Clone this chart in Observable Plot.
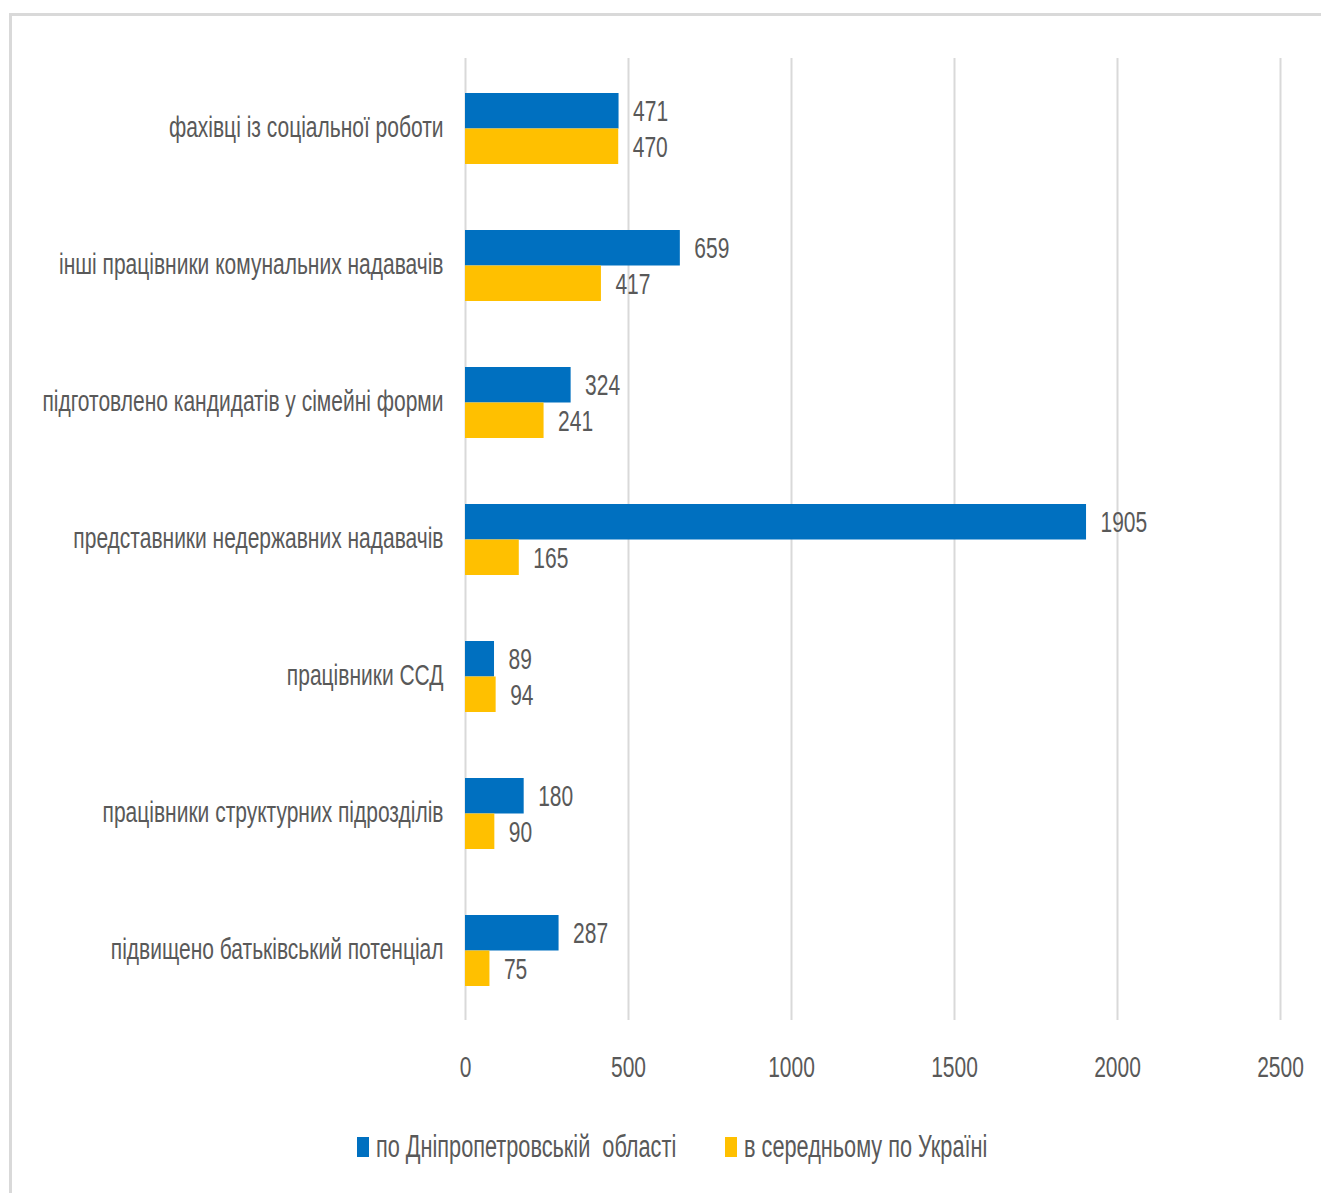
<!DOCTYPE html>
<html>
<head>
<meta charset="utf-8">
<script src="https://cdn.jsdelivr.net/npm/d3@7"></script>
<script src="https://cdn.jsdelivr.net/npm/@observablehq/plot@0.6"></script>
<style>
  html, body { margin: 0; padding: 0; background: #fff; }
  #wrap { position: relative; width: 1321px; height: 1193px; overflow: hidden; font-family: "Liberation Sans", Arial, sans-serif; }
  #frame { position: absolute; left: 9px; top: 13px; width: 1330px; height: 1200px; border-top: 3px solid #d9d9d9; border-left: 3px solid #d9d9d9; }
  #chart { position: absolute; left: 0; top: 0; }
  #legend { position: absolute; left: 0; top: 1128px; width: 1321px; display: flex; justify-content: center; padding-left: 24px; box-sizing: border-box; gap: 49px; color: #595959; font-size: 31px; line-height: 38px; }
  #legend .item { display: flex; align-items: center; gap: 7px; }
  #legend .sw { display: inline-block; width: 12px; height: 20px; flex: none; }
  #legend .lblwrap { display: inline-block; overflow: visible; }
  #legend .lbl { display: inline-block; white-space: pre; transform-origin: 0 50%; }
</style>
</head>
<body>
<div id="wrap">
  <div id="frame"></div>
  <div id="chart"></div>
  <div id="legend"></div>
</div>
<script>
const categories = [
  "фахівці із соціальної роботи",
  "інші працівники комунальних надавачів",
  "підготовлено кандидатів у сімейні форми",
  "представники недержавних надавачів",
  "працівники ССД",
  "працівники структурних підрозділів",
  "підвищено батьківський потенціал"
];
const seriesNames = ["по Дніпропетровській  області", "в середньому по Україні"];
const dnipro = [471, 659, 324, 1905, 89, 180, 287];
const ukraine = [470, 417, 241, 165, 94, 90, 75];
const xTicks = [0, 500, 1000, 1500, 2000, 2500];
const colors = ["#0070C0", "#FFC000"];

const dataD = categories.map((c, i) => ({category: c, value: dnipro[i]}));
const dataU = categories.map((c, i) => ({category: c, value: ukraine[i]}));

const textColor = "#595959";
const squeeze = 0.70; // horizontal condensation of the text glyphs

const chart = Plot.plot({
  width: 1321,
  height: 1100,
  marginLeft: 465,
  marginRight: 41,
  marginTop: 58,
  marginBottom: 80,
  style: {fontFamily: "'Liberation Sans', Arial, sans-serif", fontSize: "30px", color: textColor, background: "transparent"},
  x: {domain: [0, 2500], ticks: xTicks, tickFormat: d => String(d), tickSize: 0, tickPadding: 35, label: null},
  y: {domain: categories, paddingInner: 0.483, paddingOuter: 0.24, tickSize: 0, tickPadding: 22, label: null},
  marks: [
    Plot.ruleX(xTicks, {stroke: "#d9d9d9", strokeWidth: 2}),
    Plot.barX(dataD, {x: "value", y: "category", fill: colors[0], insetBottom: 35.5}),
    Plot.barX(dataU, {x: "value", y: "category", fill: colors[1], insetTop: 35.5}),
    Plot.axisY({tickSize: 0, tickPadding: 22, dy: -2, fontSize: 30}),
    Plot.text(dataD, {x: "value", y: "category", text: d => String(d.value), dx: 14, dy: -18, textAnchor: "start", fill: textColor, fontSize: 30}),
    Plot.text(dataU, {x: "value", y: "category", text: d => String(d.value), dx: 14, dy: 18, textAnchor: "start", fill: textColor, fontSize: 30})
  ]
});
document.getElementById("chart").appendChild(chart);

// condense the glyphs horizontally about each text's own anchor point
chart.querySelectorAll("text").forEach(t => {
  const b = t.getBBox();
  if (!b.width) return;
  const anchor = getComputedStyle(t).textAnchor;
  const ax = anchor === "end" ? b.x + b.width : anchor === "middle" ? b.x + b.width / 2 : b.x;
  const tr = t.getAttribute("transform") || "";
  t.setAttribute("transform", `${tr} translate(${ax},0) scale(${squeeze},1) translate(${-ax},0)`.trim());
});

const legend = document.getElementById("legend");
seriesNames.forEach((name, i) => {
  const item = document.createElement("div");
  item.className = "item";
  const sw = document.createElement("span");
  sw.className = "sw";
  sw.style.background = colors[i];
  const wrap = document.createElement("span");
  wrap.className = "lblwrap";
  const label = document.createElement("span");
  label.className = "lbl";
  label.textContent = name;
  wrap.appendChild(label);
  item.appendChild(sw);
  item.appendChild(wrap);
  legend.appendChild(item);
  const w = label.getBoundingClientRect().width;
  label.style.transform = `scaleX(${squeeze})`;
  wrap.style.width = (w * squeeze) + "px";
});
</script>
</body>
</html>
